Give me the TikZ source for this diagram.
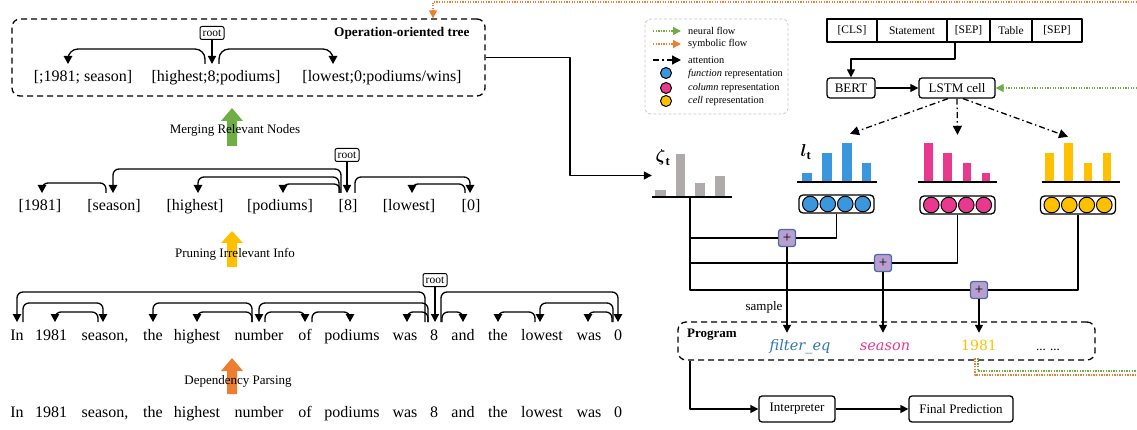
\documentclass[tikz,border=0pt]{standalone}
\usepackage{amsmath}
\usepackage{fontspec}
\setmainfont{Liberation Serif}
\newfontfamily\progfont{DejaVu Serif}
\usetikzlibrary{arrows.meta}
\definecolor{cgreen}{HTML}{70AD47}
\definecolor{corange}{HTML}{ED7D31}
\definecolor{cyellow}{HTML}{FFC000}
\definecolor{cblue}{HTML}{3A96DD}
\definecolor{cpink}{HTML}{E8398F}
\definecolor{cgray}{HTML}{AFABAB}
\definecolor{cpurple}{HTML}{B89FCF}
\definecolor{cpborder}{HTML}{4A6BA5}
\definecolor{cfunc}{HTML}{2E75B6}
\newcommand\fsz[1]{\fontsize{#1}{#1}\selectfont}
\newcommand\dparc[5]{\draw[dep] (#1.north -| #2,0) -- ++(0,-#5) -| (#3.north -| #4,0);}
\begin{document}
\begin{tikzpicture}[x=1pt,y=-1pt,line join=round,
  tip/.style={line width=1.3pt,-{Triangle[length=8pt,width=8pt]}},
  dep/.style={line width=1.3pt, rounded corners=6pt, -{Triangle[length=8pt,width=8.5pt]}},
  wd/.style={anchor=base, inner sep=0pt, text height=11pt, text depth=3pt, outer ysep=7pt, font=\fsz{16}},
  rootbox/.style={draw, line width=1pt, rounded corners=2pt, inner sep=0pt, minimum width=24pt, minimum height=13pt, font=\fsz{11.5}},
  lbl/.style={font=\fsz{13}},
  dbox/.style={draw, line width=1.3pt, dash pattern=on 6pt off 4pt, rounded corners=8pt, inner sep=0pt},
  tok/.style={draw, line width=1.3pt, minimum height=23pt, inner sep=0pt, font=\fsz{11.5}},
  rbox/.style={draw, line width=1.3pt, rounded corners=3pt, inner sep=0pt, minimum height=20pt, font=\fsz{13}},
  conn/.style={line width=1.3pt},
  neural/.style={draw=cgreen, line width=1.3pt, dash pattern=on 1.3pt off 1.3pt, -{Triangle[length=8pt,width=8pt]}},
  symb/.style={draw=corange, line width=1.3pt, dash pattern=on 1.3pt off 1.3pt},
  att/.style={line width=1.3pt, dash pattern=on 6pt off 3pt on 1.5pt off 3pt, -{Triangle[length=9pt,width=9pt]}},
  chart/.style={inner sep=0pt, minimum width=80pt},
  vecbox/.style={draw, line width=1.3pt, rounded corners=4pt, minimum width=75pt, minimum height=18pt, inner sep=0pt},
  plus/.style={draw=cpborder, fill=cpurple, line width=1.3pt, rounded corners=2.5pt, minimum size=17pt, inner sep=0pt, font=\fsz{15}},
  prog/.style={anchor=base, text height=12pt, text depth=3pt, inner xsep=0pt, inner ysep=5pt, font=\progfont\itshape\fsz{14.5}},
  leg/.style={anchor=west, inner sep=0pt, font=\fsz{10.3}}
]
\useasboundingbox (0,0) rectangle (1137,430);

% ---------------- left: trees ----------------
\node[dbox, minimum width=473pt, minimum height=77pt] (tree) at (248.5,57.5) {};
\node[anchor=east, font=\bfseries\fsz{13.3}] (ttitle) at (473,33) {Operation-oriented tree};
\node[wd] (o1) at (83,82) {[;1981; season]};
\node[wd] (o2) at (216,82) {[highest;8;podiums]};
\node[wd] (o3) at (382,82) {[lowest;0;podiums/wins]};
\node[rootbox] (root1) at (212,33) {root};
\draw[tip] (root1.south) -- (o2.north -| root1.south);
\begin{scope}[dep/.append style={rounded corners=10pt}]
\dparc{o2}{205}{o1}{68}{15}
\dparc{o2}{219}{o3}{333}{15}
\end{scope}

% big arrows
\fill[cgreen] (227,146) -- (227,121) -- (221,121) -- (232,108) -- (243,121) -- (237,121) -- (237,146) -- cycle;
\node[lbl] (merge) at (235,130) {Merging Relevant Nodes};
\fill[cyellow] (227,267) -- (227,243) -- (221,243) -- (232,231) -- (243,243) -- (237,243) -- (237,267) -- cycle;
\node[lbl] (prune) at (235,254) {Pruning Irrelevant Info};
\fill[corange] (227,394) -- (227,371) -- (221,371) -- (232,358) -- (243,371) -- (237,371) -- (237,394) -- cycle;
\node[lbl] (dpars) at (238,381) {Dependency Parsing};

% middle row
\node[wd] (m1) at (40,211) {[1981]};
\node[wd] (m2) at (114,211) {[season]};
\node[wd] (m3) at (195,211) {[highest]};
\node[wd] (m4) at (280,211) {[podiums]};
\node[wd] (m5) at (348,211) {[8]};
\node[wd] (m6) at (409,211) {[lowest]};
\node[wd] (m7) at (471,211) {[0]};
\node[rootbox] (root2) at (347,155) {root};
\draw[tip] (root2.south) -- (m5.north -| root2.south);
\dparc{m5}{341}{m2}{113}{24}
\dparc{m5}{339}{m3}{198}{16}
\dparc{m5}{340}{m4}{283}{9}
\dparc{m2}{106}{m1}{42}{10}
\dparc{m5}{355}{m7}{470}{16}
\dparc{m7}{465}{m6}{412}{9}

% parsed sentence
\node[wd] (t1) at (17,340) {In};
\node[wd] (t2) at (51,340) {1981};
\node[wd] (t3) at (105,340) {season,};
\node[wd] (t4) at (153,340) {the};
\node[wd] (t5) at (197,340) {highest};
\node[wd] (t6) at (259,340) {number};
\node[wd] (t7) at (305,340) {of};
\node[wd] (t8) at (352,340) {podiums};
\node[wd] (t9) at (405,340) {was};
\node[wd] (t10) at (434,340) {8};
\node[wd] (t11) at (463,340) {and};
\node[wd] (t12) at (498,340) {the};
\node[wd] (t13) at (542,340) {lowest};
\node[wd] (t14) at (589,340) {was};
\node[wd] (t15) at (618,340) {0};
\node[rootbox] (root3) at (435,280) {root};
\draw[tip] (root3.south) -- (t10.north -| root3.south);
\dparc{t10}{425}{t1}{17}{30}
\dparc{t1}{23}{t3}{103}{19}
\dparc{t3}{98}{t2}{55}{10}
\dparc{t6}{252}{t4}{153}{19}
\dparc{t6}{252}{t5}{197}{10}
\dparc{t10}{428}{t6}{259}{19}
\dparc{t6}{265}{t7}{305}{10}
\dparc{t7}{312}{t8}{350}{10}
\dparc{t10}{428}{t9}{407}{10}
\dparc{t10}{442}{t11}{463}{10}
\dparc{t10}{441}{t15}{618}{30}
\dparc{t13}{535}{t12}{498}{10}
\dparc{t15}{613}{t13}{540}{19}
\dparc{t15}{612}{t14}{588}{10}

% raw sentence
\node[wd] (b1) at (17,417) {In};
\node[wd] (b2) at (51,417) {1981};
\node[wd] (b3) at (105,417) {season,};
\node[wd] (b4) at (153,417) {the};
\node[wd] (b5) at (197,417) {highest};
\node[wd] (b6) at (259,417) {number};
\node[wd] (b7) at (305,417) {of};
\node[wd] (b8) at (352,417) {podiums};
\node[wd] (b9) at (405,417) {was};
\node[wd] (b10) at (434,417) {8};
\node[wd] (b11) at (463,417) {and};
\node[wd] (b12) at (498,417) {the};
\node[wd] (b13) at (542,417) {lowest};
\node[wd] (b14) at (589,417) {was};
\node[wd] (b15) at (618,417) {0};

% ---------------- legend ----------------
\node[draw=gray!45, line width=0.8pt, dash pattern=on 3pt off 2pt, rounded corners=6pt, minimum width=143pt, minimum height=95pt] (legend) at (716.5,66.5) {};
\coordinate (lg1a) at (653,31); \coordinate (lg1b) at (681,31);
\draw[neural] (lg1a) -- (lg1b);
\node[leg] (lgt1) at (688,31) {neural flow};
\coordinate (lg2a) at (653,44); \coordinate (lg2b) at (681,44);
\draw[symb, -{Triangle[length=8pt,width=8pt]}] (lg2a) -- (lg2b);
\node[leg] (lgt2) at (688,44) {symbolic flow};
\coordinate (lg3a) at (653,60); \coordinate (lg3b) at (681,60);
\draw[att] (lg3a) -- (lg3b);
\node[leg] (lgt3) at (688,60) {attention};
\filldraw[fill=cblue, line width=1pt] (666,73) circle[radius=5.5pt];
\node[leg] (lgt4) at (688,74) {\textit{function} representation};
\filldraw[fill=cpink, line width=1pt] (666,88) circle[radius=5.5pt];
\node[leg] (lgt5) at (688,88) {\textit{column} representation};
\filldraw[fill=cyellow, line width=1pt] (666,101) circle[radius=5.5pt];
\node[leg] (lgt6) at (688,101) {\textit{cell} representation};

% ---------------- encoder ----------------
\node[tok, minimum width=50pt] (cls) at (852,30.5) {[CLS]};
\node[tok, minimum width=70pt] (stmt) at (912,30.5) {Statement};
\node[tok, minimum width=43pt] (sep1) at (968.5,30.5) {[SEP]};
\node[tok, minimum width=42pt] (tbl) at (1011,30.5) {Table};
\node[tok, minimum width=50pt] (sep2) at (1057,30.5) {[SEP]};
\node[rbox, minimum width=48pt] (bert) at (851,88) {BERT};
\node[rbox, minimum width=76pt] (lstm) at (957,88) {LSTM cell};
\draw[tip] (sep1.south -| 955,0) -- (955,59) -| (bert.north);
\draw[tip] (bert) -- (lstm);
\draw[neural] (1137,88) -- (lstm.east);

% ---------------- charts ----------------
\node[chart, minimum height=43pt] (zc) at (692,175.5) {};
\node[chart, minimum height=48pt] (lc) at (837,158) {};
\node[chart, minimum height=47pt] (cc) at (957.5,158.5) {};
\node[chart, minimum height=45pt] (yc) at (1081,159.5) {};
\node[font=\fsz{18}] (zlab) at (663,158) {$\boldsymbol{\zeta}_{\mathbf{t}}$};
\node[font=\fsz{18}] (llab) at (806,152) {$\boldsymbol{l}_{\mathbf{t}}$};

\fill[cgray] (655,190) rectangle (666,197);
\fill[cgray] (676,154) rectangle (685,197);
\fill[cgray] (695,183) rectangle (705,197);
\fill[cgray] (715,176) rectangle (725,197);
\draw[line width=1.5pt] (652,197) -- (732,197);

\fill[cblue] (802,173) rectangle (812,182);
\fill[cblue] (822,153) rectangle (832,182);
\fill[cblue] (842,143) rectangle (852,182);
\fill[cblue] (862,163) rectangle (871,182);
\draw[line width=1.5pt] (797,182) -- (877,182);

\fill[cpink] (924,143) rectangle (933,182);
\fill[cpink] (943,153) rectangle (952,182);
\fill[cpink] (963,163) rectangle (971,182);
\fill[cpink] (982,173) rectangle (990,182);
\draw[line width=1.5pt] (918,182) -- (997,182);

\fill[cyellow] (1045,153) rectangle (1054,182);
\fill[cyellow] (1064,143) rectangle (1073,182);
\fill[cyellow] (1084,163) rectangle (1092,182);
\fill[cyellow] (1103,153) rectangle (1111,182);
\draw[line width=1.5pt] (1042,182) -- (1120,182);

\draw[att] ([xshift=-9pt]lstm.south) -- ([xshift=13pt]lc.north);
\draw[att] (lstm.south) -- (cc.north);
\draw[att] ([xshift=6pt]lstm.south) -- ([xshift=-13pt]yc.north);

\draw[tip] (tree.east) -- (570,57.5) |- (zc.west);

% vectors
\node[vecbox] (lv) at (836.5,204) {};
\node[vecbox] (cv) at (957.5,205) {};
\node[vecbox] (yv) at (1078,205) {};
\foreach \d in {-26.25,-8.75,8.75,26.25}{
  \filldraw[fill=cblue, line width=1pt] ([xshift=\d pt]lv.center) circle[radius=7.8pt];
  \filldraw[fill=cpink, line width=1pt] ([xshift=\d pt]cv.center) circle[radius=7.8pt];
  \filldraw[fill=cyellow, line width=1pt] ([xshift=\d pt]yv.center) circle[radius=7.8pt];
}

% plus nodes and buses
\node[plus] (p1) at (787,238) {+};
\node[plus] (p2) at (883,263) {+};
\node[plus] (p3) at (979,290) {+};
\coordinate (zb) at (690,197);
\draw[conn] (zb) |- (p3);
\draw[conn] (zb |- p1) -- (p1);
\draw[conn] (zb |- p2) -- (p2);
\draw[conn] (lv.south) |- (p1);
\draw[conn] (cv.south) |- (p2);
\draw[conn] (yv.south) |- (p3);

% program
\node[dbox, minimum width=417pt, minimum height=38pt] (prog) at (886.5,341) {};
\node[anchor=west, font=\bfseries\fsz{13}, inner sep=0pt] (progt) at (687,335) {Program};
\node[prog, text=cfunc] (filt) at (800,350) {filter\_eq};
\node[prog, text=cpink] (seas) at (885,350) {season};
\node[prog, text=cyellow, font=\progfont\fsz{14}] (n1981) at (979,350) {1981};
\node[anchor=base, font=\fsz{13}] (more) at (1048,350) {... ...};
\draw[tip] (p1) -- (p1 |- filt.north);
\draw[tip] (p2) -- (p2 |- seas.north);
\draw[tip] (p3) -- (p3 |- n1981.north);
\node[font=\fsz{13}] (sample) at (764,307) {sample};

\draw[symb] ([xshift=-4pt]n1981.south) |- (1137,375);
\draw[neural, -] ([xshift=-1pt]n1981.south) |- (1137,371);
\draw[symb, -{Triangle[length=8pt,width=8pt]}] (1137,2) -- (433,2) -- (tree.north -| 433,0);

\node[rbox, minimum width=76pt, minimum height=26pt] (interp) at (797,409) {Interpreter};
\node[rbox, minimum width=104pt, minimum height=26pt] (final) at (961,409) {Final Prediction};
\draw[tip] (prog.south -| 690,0) |- (interp.west);
\draw[tip] (interp) -- (final);
\end{tikzpicture}
\end{document}
